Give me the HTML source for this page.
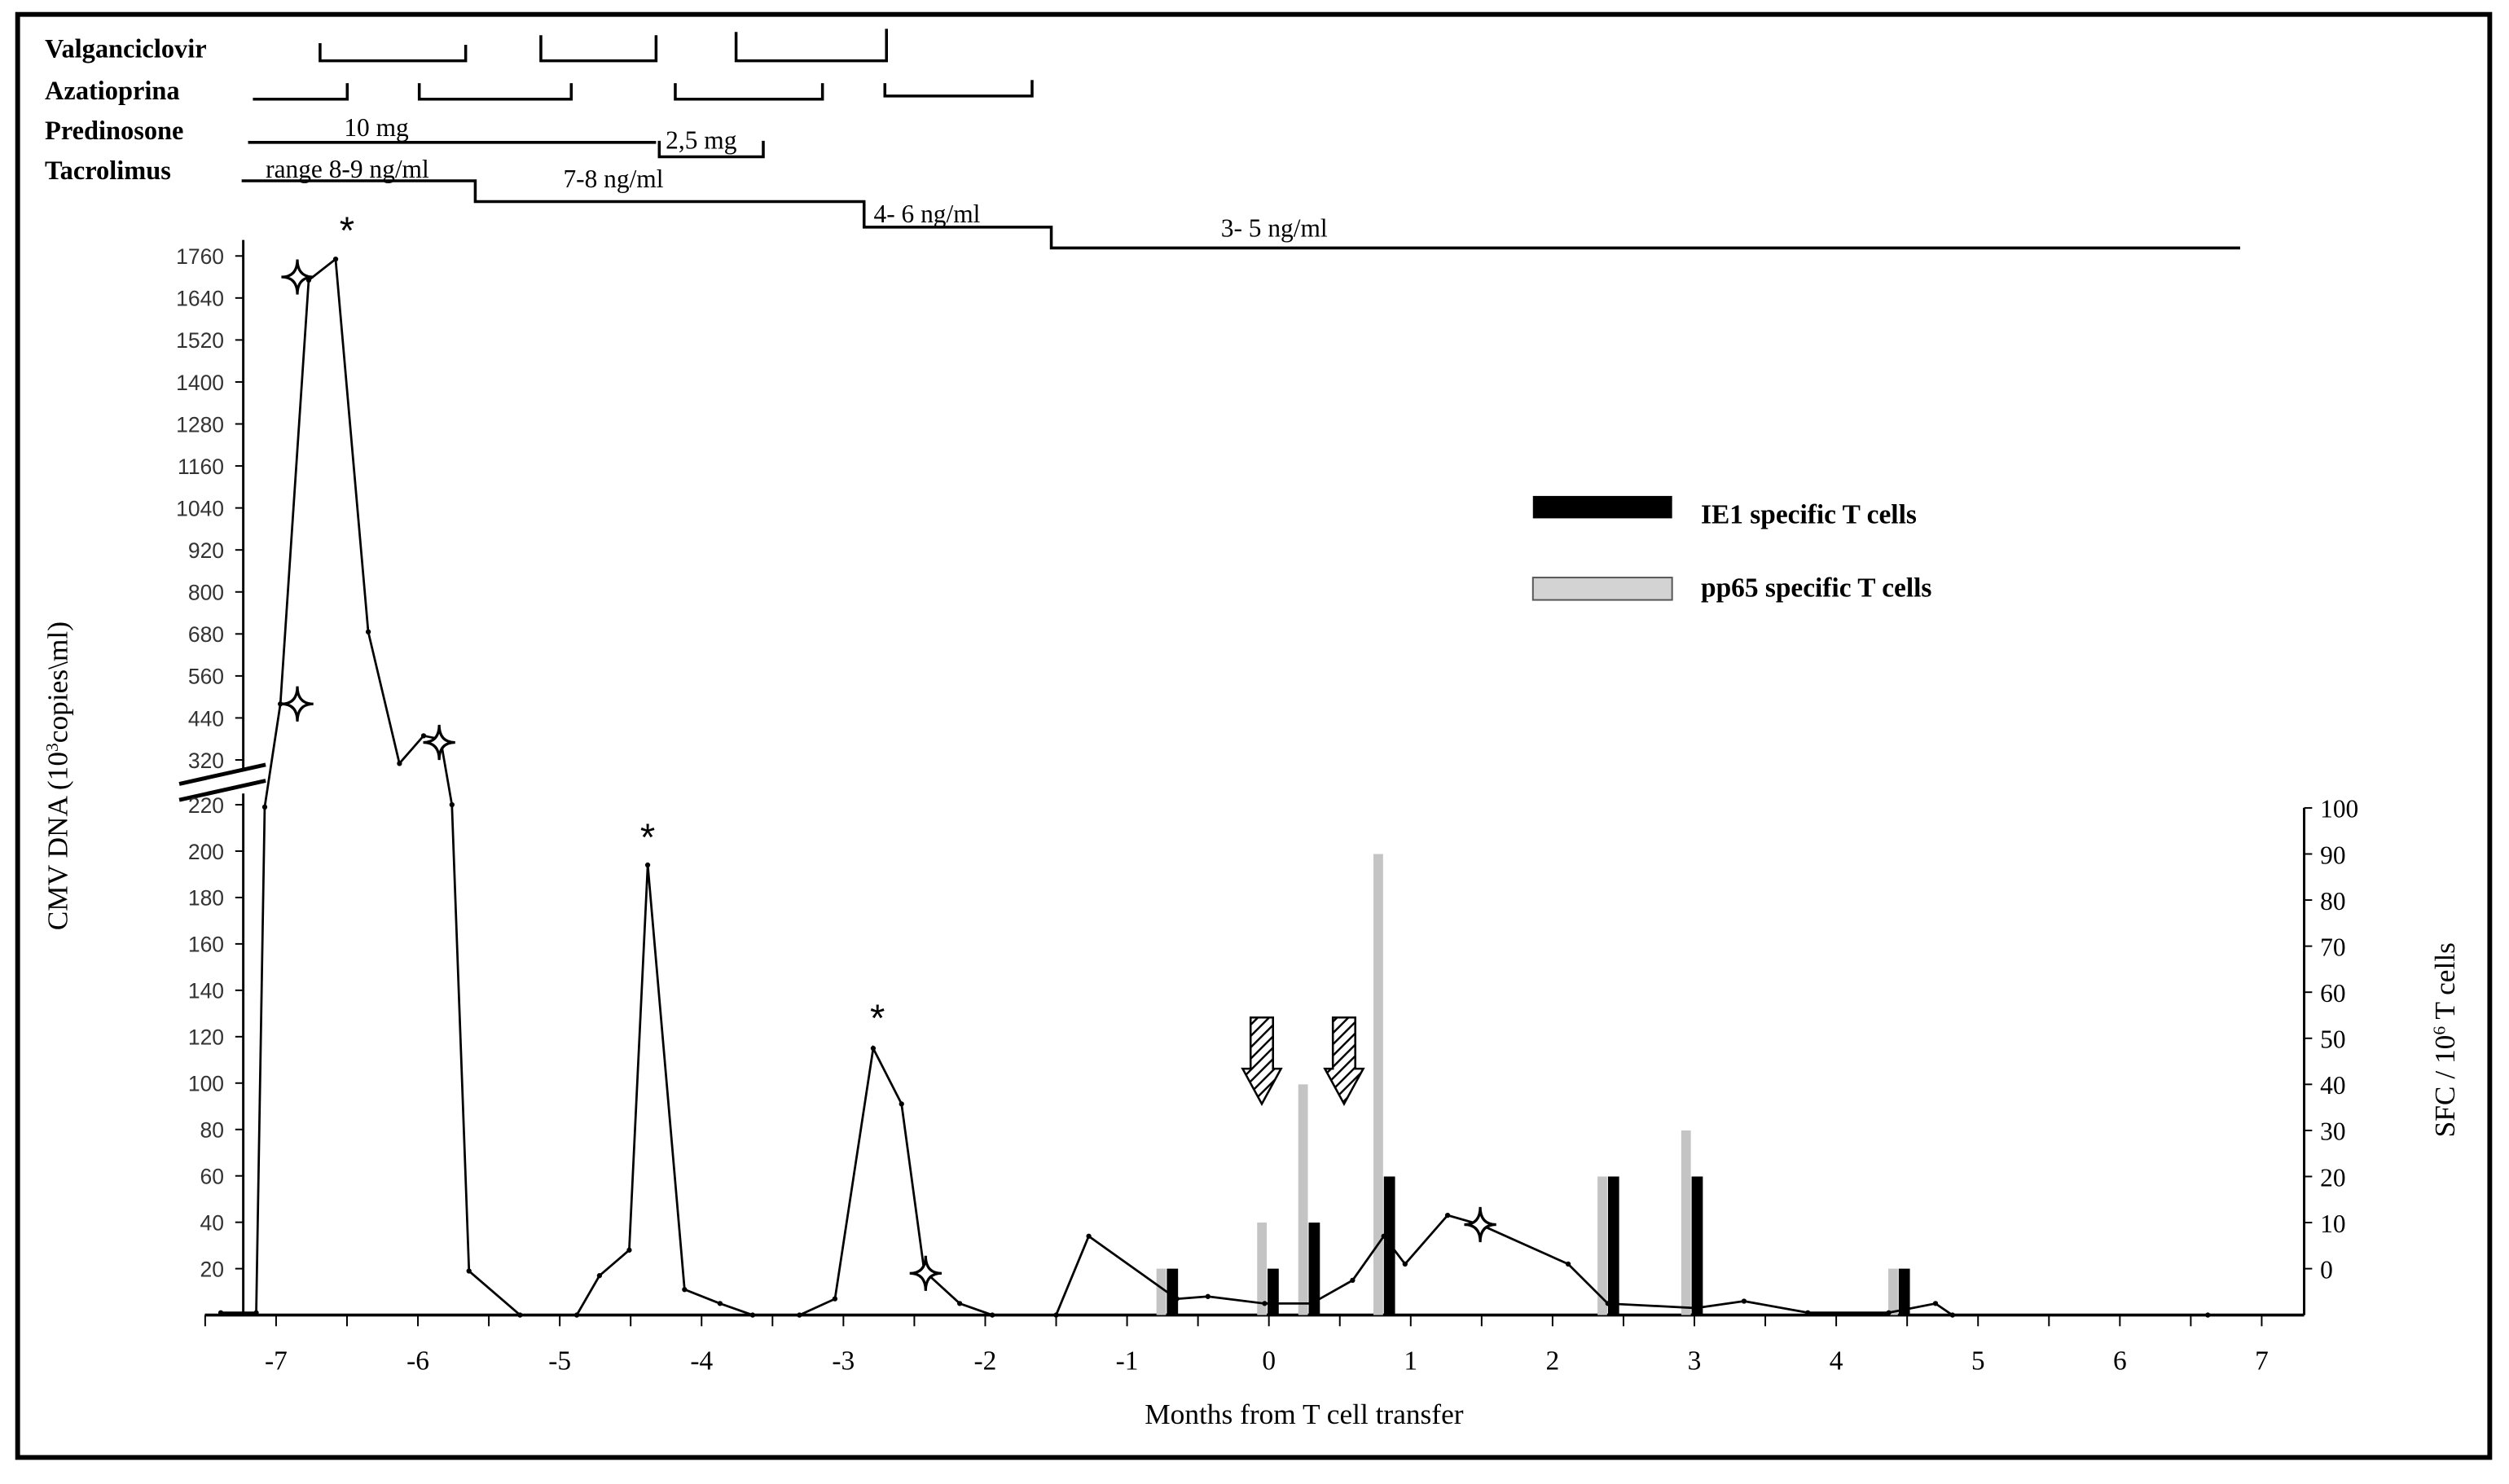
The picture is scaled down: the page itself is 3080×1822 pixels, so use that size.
<!DOCTYPE html>
<html><head><meta charset="utf-8">
<style>
html,body{margin:0;padding:0;background:#fff;}
svg{display:block;}
.serif{font-family:"Liberation Serif",serif;}
.sans{font-family:"Liberation Sans",sans-serif;}
</style></head>
<body>
<svg id="chart" width="3080" height="1822" viewBox="0 0 1568 927.6" xmlns="http://www.w3.org/2000/svg">
<rect x="11" y="9" width="1545" height="902" fill="#fff" stroke="#000" stroke-width="3"/>
<g class="serif" font-size="16.5" font-weight="bold" fill="#000">
<text x="28" y="36">Valganciclovir</text>
<text x="28" y="62">Azatioprina</text>
<text x="28" y="87">Predinosone</text>
<text x="28" y="112">Tacrolimus</text>
</g>
<g fill="none" stroke="#000" stroke-width="1.8">
<path d="M200 27 V38 H291 V28 M338 22 V38 H410 V22 M460 20 V38 H554 V18"/>
<path d="M158 62 H217 V52 M262 52 V62 H357 V52 M422 52 V62 H514 V52 M553 52 V60 H645 V50"/>
<path d="M155 89 H410 M412 88 V98 H477 V88"/>
<path d="M151 113 H297 V126 H540 V142 H657 V155 H1400"/>
</g>
<g class="serif" font-size="16" fill="#000">
<text x="215" y="85">10 mg</text>
<text x="416" y="93">2,5 mg</text>
<text x="166" y="111">range 8-9 ng/ml</text>
<text x="352" y="117">7-8 ng/ml</text>
<text x="546" y="139">4- 6 ng/ml</text>
<text x="763" y="148">3- 5 ng/ml</text>
</g>
<g class="serif" font-size="17" font-weight="bold">
<rect x="958" y="310" width="87" height="14" fill="#000"/>
<text x="1063" y="327">IE1 specific T cells</text>
<rect x="958" y="361" width="87" height="14" fill="#d3d3d3" stroke="#555" stroke-width="1"/>
<text x="1063" y="373">pp65 specific T cells</text>
</g>
<text class="serif" font-size="18" x="815" y="890" text-anchor="middle">Months from T cell transfer</text>
<text class="serif" font-size="18" transform="translate(42,485) rotate(-90)" text-anchor="middle">CMV DNA (10<tspan font-size="11" dy="-6">3</tspan><tspan dy="6">copies\ml)</tspan></text>
<text class="serif" font-size="18" transform="translate(1534,650) rotate(-90)" text-anchor="middle">SFC / 10<tspan font-size="11" dy="-6">6</tspan><tspan dy="6"> T cells</tspan></text>
<g id="plot"></g>
</svg>
<script>
var monthTicks=[-7,-6,-5,-4,-3,-2,-1,0,1,2,3,4,5,6,7];
var lowerTicks=[20,40,60,80,100,120,140,160,180,200,220];
var upperTicks=[320,440,560,680,800,920,1040,1160,1280,1400,1520,1640,1760];
var rightTicks=[0,10,20,30,40,50,60,70,80,90,100];
var cmvMonths=[-7.39,-7.14,-7.08,-6.97,-6.77,-6.58,-6.35,-6.13,-5.96,-5.84,-5.76,-5.64,-5.28,-4.88,-4.72,-4.51,-4.38,-4.12,-3.87,-3.64,-3.31,-3.06,-2.79,-2.59,-2.43,-2.18,-1.95,-1.5,-1.27,-0.65,-0.43,-0.03,0.3,0.59,0.81,0.96,1.26,1.49,2.11,2.39,3.01,3.35,3.8,4.37,4.7,4.82,6.62];
var cmvValues=[1,1,219,480,1691,1751,686,312,389,379,220,19,0,0,17,28,194,11,5,0,0,7,115,91,19,5,0,0,34,7,8,5,5,15,34,22,43,39,22,5,3,6,1,1,5,0,0];
var starMonths=[-6.85,-6.85,-5.85,-2.42,1.49];
var starValues=[1700,480,370,18,39];
var asteriskMonths=[-6.5,-4.38,-2.76];
var asteriskValues=[1860,210,132];
var barMonths=[-0.68,0.03,0.32,0.85,2.43,3.02,4.48];
var pp65Values=[0,10,40,90,20,30,0];
var ie1Values=[0,0,10,20,20,20,0];
var arrowMonths=[-0.05,0.53];

var NS='http://www.w3.org/2000/svg';
var plot=document.getElementById('plot');
function X(m){return 793+m*88.64;}
function YL(v){
  if(v<=220) return 822-v*1.45;
  if(v>=320) return 475-(v-320)*26.25/120;
  return 503-(v-220)*0.28;
}
function YR(v){return 793-v*2.88;}
function mk(tag,attrs,parent){var e=document.createElementNS(NS,tag);for(var k in attrs)e.setAttribute(k,attrs[k]);(parent||plot).appendChild(e);return e;}

var xa=mk('line',{x1:128,y1:822,x2:1440,y2:822,stroke:'#000','stroke-width':1.8});


for(var i=0;i<monthTicks.length;i++){
  var m=monthTicks[i];
  var t=mk('text',{x:X(m),y:856,'text-anchor':'middle','font-size':17,'font-family':'Liberation Serif, serif'});
  t.textContent=String(m);
  
  
}
for(var h=-7.5;h<=7.01;h+=0.5){mk('line',{x1:X(h),y1:822,x2:X(h),y2:829,stroke:'#000','stroke-width':1});}
var la1=mk('line',{x1:152,y1:150,x2:152,y2:482,stroke:'#000','stroke-width':1.5});


var la2=mk('line',{x1:152,y1:496,x2:152,y2:822,stroke:'#000','stroke-width':1.5});


var br=mk('path',{d:'M112 490 L166 478 M112 500 L166 488',stroke:'#000','stroke-width':2.5,fill:'none'});


var allLeft=lowerTicks.concat(upperTicks);
for(var i=0;i<allLeft.length;i++){
  var v=allLeft[i],y=YL(v);
  mk('line',{x1:147,y1:y,x2:152,y2:y,stroke:'#000','stroke-width':1});
  var t=mk('text',{x:140,y:y+5,'text-anchor':'end','font-size':13.5,'font-family':'Liberation Sans, sans-serif',fill:'#333'});
  t.textContent=String(v);
  
  
}
var ra=mk('line',{x1:1440,y1:505,x2:1440,y2:822,stroke:'#000','stroke-width':1.5});


for(var i=0;i<rightTicks.length;i++){
  var v=rightTicks[i],y=YR(v);
  mk('line',{x1:1440,y1:y,x2:1445,y2:y,stroke:'#000','stroke-width':1});
  var t=mk('text',{x:1450,y:y+6,'font-size':16,'font-family':'Liberation Serif, serif'});
  t.textContent=String(v);
  
  
}
for(var i=0;i<barMonths.length;i++){
  var x=X(barMonths[i]);
  var g=mk('rect',{x:x-10,y:YR(pp65Values[i]),width:6,height:822-YR(pp65Values[i]),fill:'#c4c4c4'});
  
  
  var b=mk('rect',{x:x-3.5,y:YR(ie1Values[i]),width:7,height:822-YR(ie1Values[i]),fill:'#000'});
  
  
}
var d='';
for(var i=0;i<cmvMonths.length;i++){d+=(i?'L':'M')+X(cmvMonths[i]).toFixed(1)+' '+YL(cmvValues[i]).toFixed(1);}
var ln=mk('path',{d:d,fill:'none',stroke:'#000','stroke-width':1.4});


for(var i=0;i<cmvMonths.length;i++){mk('circle',{cx:X(cmvMonths[i]),cy:YL(cmvValues[i]),r:1.6,fill:'#000'});}
for(var i=0;i<starMonths.length;i++){
  var cx=X(starMonths[i]),cy=YL(starValues[i]);
  var s=mk('path',{d:'M'+cx+' '+(cy-11)+' Q'+cx+' '+cy+' '+(cx+10)+' '+cy+' Q'+cx+' '+cy+' '+cx+' '+(cy+11)+' Q'+cx+' '+cy+' '+(cx-10)+' '+cy+' Q'+cx+' '+cy+' '+cx+' '+(cy-11)+'Z',fill:'#fff',stroke:'#000','stroke-width':1.6});
  
  
}
for(var i=0;i<asteriskMonths.length;i++){
  var a=mk('text',{x:X(asteriskMonths[i]),y:YL(asteriskValues[i])+14,'text-anchor':'middle','font-size':24,'font-family':'Liberation Sans, sans-serif'});
  a.textContent='*';
  
  
}
var defs=mk('defs',{});
var pat=mk('pattern',{id:'hatch',width:5,height:5,patternUnits:'userSpaceOnUse',patternTransform:'rotate(45)'},defs);
mk('rect',{width:5,height:5,fill:'#fff'},pat);
mk('line',{x1:0,y1:0,x2:0,y2:5,stroke:'#000','stroke-width':2.5},pat);
for(var i=0;i<arrowMonths.length;i++){
  var x=X(arrowMonths[i]);
  var p=mk('path',{d:'M'+(x-7)+' 636 H'+(x+7)+' V668 H'+(x+12)+' L'+x+' 690 L'+(x-12)+' 668 H'+(x-7)+' Z',fill:'url(#hatch)',stroke:'#000','stroke-width':1.3});
  
  
}
</script>
</body></html>
